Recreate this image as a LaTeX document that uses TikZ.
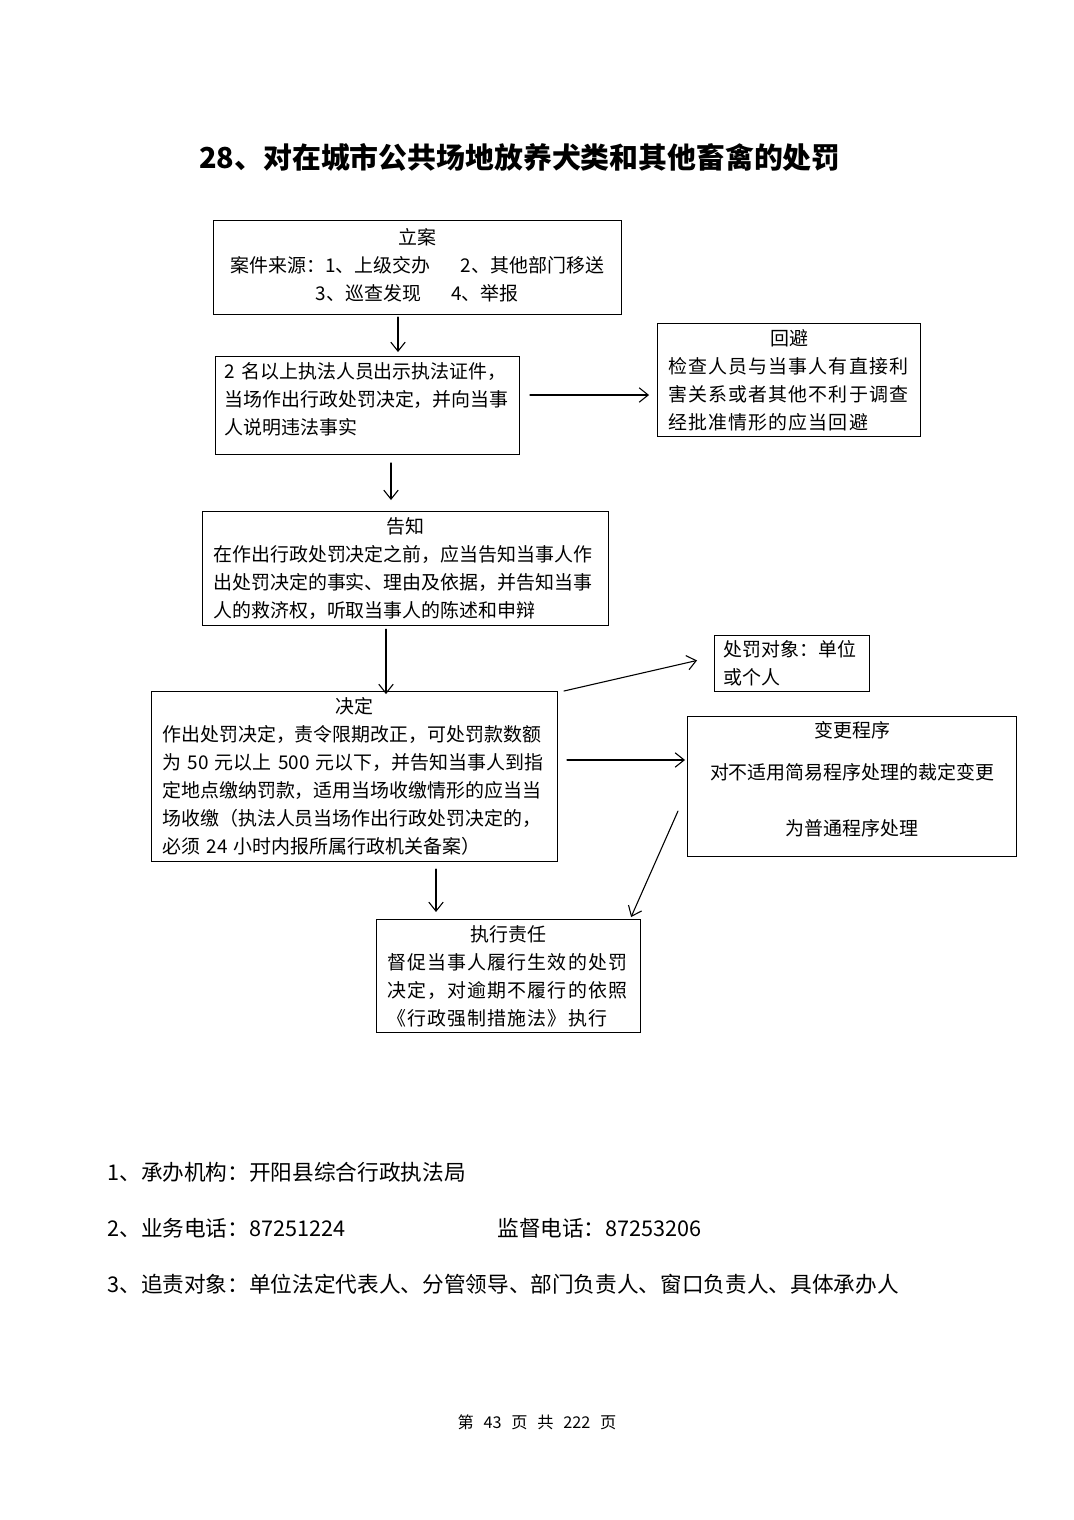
\documentclass[tikz,border=0pt]{standalone}
\usepackage{fontspec}
\setmainfont{Noto Sans CJK SC}
\newfontfamily\kuanzi{Noto Sans CJK SC}[LetterSpace=6]
\usetikzlibrary{arrows.meta}
\begin{document}
\begin{tikzpicture}[x=0.5543pt,y=-0.5543pt,>={Straight Barb[length=5pt,width=8pt]},
	kuang/.style={draw,line width=0.6pt,anchor=north west,inner xsep=6pt,inner ysep=0pt,align=left,font=\fontsize{10.5}{15.5}\selectfont},
	jt/.style={->,line width=0.6pt,line cap=round},
	hang/.style={anchor=west,inner sep=0pt,font=\fontsize{12}{14}\selectfont}]
	\useasboundingbox (0,0) rectangle (1074,1520);
	\node[font=\fontsize{16}{20}\selectfont\bfseries] (biaoti) at (520,157) {28、对在城市公共场地放养犬类和其他畜禽的处罚};
	% 流程框
	\node[kuang,align=center,text width=214pt,minimum height=52.1pt] (lian) at (213,220)
		{立案\\案件来源：1、上级交办\hspace{1.6em}2、其他部门移送\\3、巡查发现\hspace{1.6em}4、举报\par\kern3pt};
	\node[kuang,inner xsep=5pt,text width=158.5pt,minimum height=54.3pt] (zhifa) at (215,356)
		{2 名以上执法人员出示执法证件，\\当场作出行政处罚决定，并向当事\\人说明违法事实\par\kern6.7pt};
	\node[kuang,text width=133.8pt,minimum height=62.6pt] (huibi) at (657,323)
		{{\centering 回避\par}\kuanzi 检查人员与当事人有直接利\\害关系或者其他不利于调查\\经批准情形的应当回避};
	\node[kuang,text width=213pt,minimum height=63.2pt] (gaozhi) at (202,511)
		{{\centering 告知\par}在作出行政处罚决定之前，应当告知当事人作\\出处罚决定的事实、理由及依据，并告知当事\\人的救济权，听取当事人的陈述和申辩};
	\node[kuang,text width=213pt,minimum height=94.2pt] (jueding) at (151,691)
		{{\centering 决定\par}作出处罚决定，责令限期改正，可处罚款数额\\为 50 元以上 500 元以下，并告知当事人到指\\定地点缴纳罚款，适用当场收缴情形的应当当\\场收缴（执法人员当场作出行政处罚决定的，\\必须 24 小时内报所属行政机关备案）};
	\node[kuang,inner xsep=5pt,text width=75.9pt,minimum height=31pt] (duixiang) at (714,635)
		{处罚对象：单位\\或个人};
	\node[kuang,align=center,text width=170.4pt,minimum height=77.6pt] (biangeng) at (687,716)
		{变更程序\\[7.8pt]对不适用简易程序处理的裁定变更\\[15.5pt]为普通程序处理\par\kern8.5pt};
	\node[kuang,text width=134.3pt,minimum height=62.6pt] (zhixing) at (376,919)
		{{\centering 执行责任\par}\kuanzi 督促当事人履行生效的处罚\\决定，对逾期不履行的依照\\《行政强制措施法》执行};
	% 箭头
	\foreach \a/\b/\x/\s/\t in {lian/zhifa/398/1.1/2.2,zhifa/gaozhi/391/4.4/6.1,gaozhi/jueding/386/1.7/-1.7,jueding/zhixing/436/3.9/3.9}
		{\draw[jt,shorten <=\s pt,shorten >=\t pt] (\a.south -| \x,0) -- (\b.north -| \x,0);}
	\draw[jt,shorten <=5.5pt,shorten >=4.4pt] (zhifa.east |- 0,395) -- (huibi.west |- 0,395);
	\draw[jt,shorten <=5pt,shorten >=1.1pt] (jueding.east |- 0,760) -- (biangeng.west |- 0,760);
	\draw[jt] ([xshift=3.3pt]jueding.north east) -- ([xshift=-9.4pt,yshift=1.7pt]duixiang.west);
	\draw[jt] ([xshift=-5pt,yshift=25.5pt]biangeng.south west) -- ([xshift=-5.5pt,yshift=1.1pt]zhixing.north east);
	% 说明
	\node[hang] (jigou) at (107,1172) {1、承办机构：开阳县综合行政执法局};
	\node[hang] (dianhua) at (107,1228) {2、业务电话：87251224};
	\node[hang] (jiandu) at (497,1228) {监督电话：87253206};
	\node[hang] (zhuize) at (107,1284) {3、追责对象：单位法定代表人、分管领导、部门负责人、窗口负责人、具体承办人};
	\node[font=\fontsize{9}{11}\selectfont] (yema) at (537,1422) {第\hspace{0.6em}43\hspace{0.6em}页\hspace{0.6em}共\hspace{0.6em}222\hspace{0.6em}页};
\end{tikzpicture}
\end{document}
